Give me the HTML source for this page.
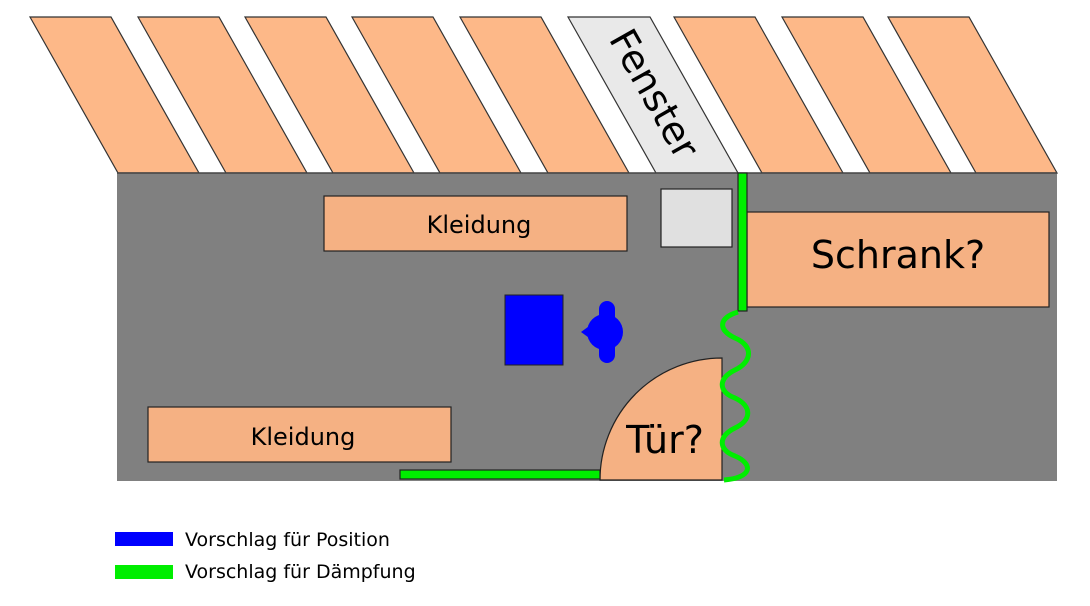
<!DOCTYPE html>
<html><head><style>body{margin:0;background:#fff}svg{display:block}</style></head><body>
<svg width="1090" height="606" viewBox="0 0 1090 606" xmlns="http://www.w3.org/2000/svg" font-family="'DejaVu Sans','Liberation Sans',sans-serif">
<g stroke="#333" stroke-width="1.2" fill="#fdb888">
<polygon points="30,17 111,17 199,173 118,173"/>
<polygon points="138,17 219,17 307,173 226,173"/>
<polygon points="245,17 326,17 414,173 333,173"/>
<polygon points="352,17 433,17 521,173 440,173"/>
<polygon points="460,17 541,17 629,173 548,173"/>
<polygon points="568,17 650,17 738,173 656,173" fill="#e9e9e9"/>
<polygon points="674,17 755,17 843,173 762,173"/>
<polygon points="782,17 863,17 951,173 870,173"/>
<polygon points="888,17 969,17 1057,173 976,173"/>
</g>
<text x="0" y="0" font-size="38" text-anchor="middle" dominant-baseline="middle" transform="translate(652,95) rotate(60.6)">Fenster</text>
<rect x="117" y="173" width="940" height="308" fill="#808080"/>
<line x1="117" y1="173" x2="1057" y2="173" stroke="#444" stroke-width="1.5"/>
<g stroke="#222" stroke-width="1.2">
<rect x="324" y="196" width="303" height="55" fill="#f5b183"/>
<rect x="148" y="407" width="303" height="55" fill="#f5b183"/>
<rect x="661" y="189" width="71" height="58" fill="#e0e0e0"/>
<rect x="747" y="212" width="302" height="95" fill="#f5b183"/>
<path d="M722,480 L600,480 A122,122 0 0 1 722,358 Z" fill="#f5b183"/>
<rect x="738" y="173" width="9" height="138" fill="#00ee00"/>
<rect x="400" y="470" width="200" height="9" fill="#00ee00"/>
</g>
<text x="479" y="233" font-size="24" text-anchor="middle">Kleidung</text>
<text x="303" y="445" font-size="24" text-anchor="middle">Kleidung</text>
<text x="898" y="268" font-size="38" text-anchor="middle">Schrank?</text>
<text x="665" y="453" font-size="38" text-anchor="middle">Tür?</text>
<path d="M738,312 C718,318 718,330 735,338 C754,346 752,362 735,370 C718,378 718,392 735,398 C752,406 752,420 735,428 C718,436 718,450 735,456 C754,464 752,478 724,480" fill="none" stroke="#00ee00" stroke-width="5"/>
<rect x="505" y="295" width="58" height="70" fill="#0000ff" stroke="#222" stroke-width="1"/>
<g fill="#0000ff">
<circle cx="605" cy="332" r="18"/>
<rect x="599" y="301" width="16" height="62" rx="8"/>
<polygon points="581,332 592,324 592,340"/>
</g>
<rect x="115" y="532" width="58" height="14" fill="#0000ff"/>
<rect x="115" y="565" width="58" height="14" fill="#00ee00"/>
<text x="185" y="546" font-size="19">Vorschlag für Position</text>
<text x="185" y="578" font-size="19">Vorschlag für Dämpfung</text>
</svg>
</body></html>
